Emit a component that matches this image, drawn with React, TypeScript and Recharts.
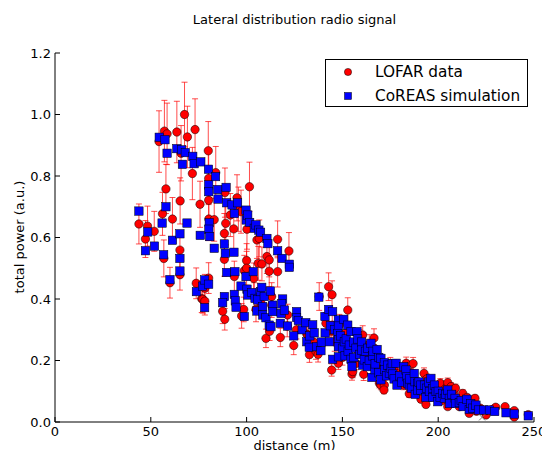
import { ErrorBar, Scatter, ScatterChart, XAxis, YAxis } from "recharts";

const FONT = '"DejaVu Sans", sans-serif';

const TITLE = "Lateral distribution radio signal";
const X_LABEL = "distance (m)";
const Y_LABEL = "total power (a.u.)";
const SERIES_NAMES = ["LOFAR data", "CoREAS simulation"];

const X_TICKS = [0, 50, 100, 150, 200, 250];
const Y_TICKS = [0, 0.2, 0.4, 0.6, 0.8, 1.0, 1.2];

// [distance (m), total power (a.u.), error]
const LOFAR: [number, number, number][] = [
  [43.8, 0.644, 0.065], [47.2, 0.595, 0.06], [48.3, 0.637, 0.065], [51.8, 0.62, 0.065],
  [54.3, 0.912, 0.1], [56.1, 0.677, 0.07], [56.8, 0.532, 0.06], [57.1, 0.946, 0.1],
  [57.9, 0.758, 0.08], [58.5, 0.937, 0.1], [60.0, 0.453, 0.05], [61.3, 0.66, 0.07],
  [63.6, 0.943, 0.1], [65.3, 0.719, 0.075], [65.2, 0.559, 0.06], [65.2, 0.479, 0.05],
  [65.8, 0.874, 0.09], [67.6, 1.0, 0.105], [69.1, 0.927, 0.1], [71.7, 0.808, 0.085],
  [73.1, 0.951, 0.1], [73.7, 0.451, 0.05], [75.7, 0.708, 0.075], [76.6, 0.401, 0.045],
  [77.1, 0.399, 0.045], [78.2, 0.393, 0.045], [78.2, 0.435, 0.045], [80.0, 0.882, 0.095],
  [80.2, 0.792, 0.085], [80.2, 0.721, 0.075], [80.3, 0.66, 0.07], [80.2, 0.468, 0.05],
  [83.1, 0.658, 0.07], [83.9, 0.811, 0.085], [87.5, 0.36, 0.04], [88.4, 0.613, 0.065],
  [88.7, 0.746, 0.08], [88.4, 0.529, 0.055], [88.6, 0.334, 0.035], [89.1, 0.646, 0.07],
  [91.5, 0.673, 0.07], [93.3, 0.628, 0.065], [93.6, 0.473, 0.05], [95.0, 0.729, 0.075],
  [95.7, 0.692, 0.072], [97.1, 0.684, 0.07], [97.4, 0.345, 0.04], [98.5, 0.366, 0.04],
  [98.8, 0.492, 0.05], [100.0, 0.525, 0.055], [100.0, 0.5, 0.055], [100.2, 0.627, 0.065],
  [101.5, 0.765, 0.08], [103.7, 0.467, 0.05], [104.0, 0.408, 0.045], [104.9, 0.366, 0.04],
  [105.4, 0.592, 0.06], [106.6, 0.597, 0.06], [106.1, 0.516, 0.055], [107.5, 0.386, 0.04],
  [108.0, 0.514, 0.055], [110.1, 0.272, 0.03], [110.6, 0.538, 0.055], [111.8, 0.527, 0.055],
  [111.8, 0.49, 0.05], [112.0, 0.295, 0.03], [113.1, 0.408, 0.045], [113.1, 0.38, 0.04],
  [116.2, 0.594, 0.06], [116.2, 0.489, 0.05], [117.6, 0.275, 0.03], [121.2, 0.312, 0.035],
  [121.4, 0.348, 0.035], [122.1, 0.556, 0.06], [124.6, 0.249, 0.03], [126.0, 0.3, 0.03],
  [131.4, 0.286, 0.03], [132.0, 0.283, 0.03], [132.8, 0.219, 0.025], [135.0, 0.26, 0.03],
  [136.2, 0.229, 0.025], [137.3, 0.22, 0.025], [137.9, 0.408, 0.045], [141.4, 0.321, 0.035],
  [142.8, 0.44, 0.045], [144.6, 0.414, 0.045], [144.1, 0.296, 0.03], [144.7, 0.315, 0.035],
  [144.4, 0.169, 0.02], [146.0, 0.26, 0.03], [147.9, 0.191, 0.02], [148.4, 0.315, 0.035],
  [150.0, 0.21, 0.025], [151.4, 0.288, 0.03], [152.8, 0.364, 0.04], [152.8, 0.24, 0.025],
  [155.0, 0.156, 0.02], [155.4, 0.164, 0.02], [157.0, 0.19, 0.02], [158.0, 0.234, 0.025],
  [159.0, 0.27, 0.03], [160.6, 0.283, 0.03], [161.1, 0.155, 0.02], [163.0, 0.21, 0.025],
  [164.0, 0.254, 0.03], [166.7, 0.24, 0.025], [166.5, 0.273, 0.03], [168.0, 0.18, 0.02],
  [169.3, 0.126, 0.015], [170.1, 0.12, 0.015], [171.9, 0.12, 0.015], [171.7, 0.104, 0.012],
  [174.0, 0.16, 0.02], [175.0, 0.19, 0.02], [177.0, 0.17, 0.02], [178.5, 0.137, 0.015],
  [180.0, 0.16, 0.018], [182.0, 0.12, 0.015], [183.3, 0.191, 0.02], [184.9, 0.092, 0.012],
  [186.0, 0.16, 0.018], [186.9, 0.19, 0.02], [188.0, 0.13, 0.015], [190.0, 0.11, 0.013],
  [191.0, 0.074, 0.01], [192.6, 0.158, 0.018], [193.6, 0.057, 0.01], [194.0, 0.14, 0.016],
  [195.0, 0.12, 0.015], [196.0, 0.08, 0.01], [197.0, 0.1, 0.012], [199.0, 0.09, 0.012],
  [200.0, 0.11, 0.013], [201.1, 0.126, 0.015], [202.0, 0.07, 0.01], [203.0, 0.1, 0.012],
  [204.0, 0.11, 0.013], [205.0, 0.128, 0.015], [205.0, 0.05, 0.008], [206.7, 0.115, 0.013],
  [208.0, 0.09, 0.012], [209.0, 0.11, 0.013], [210.0, 0.07, 0.01], [211.0, 0.05, 0.008],
  [212.8, 0.093, 0.012], [214.0, 0.06, 0.009], [215.0, 0.08, 0.01], [216.2, 0.028, 0.006],
  [219.2, 0.077, 0.01], [220.0, 0.035, 0.006], [222.0, 0.045, 0.007], [225.0, 0.023, 0.005],
  [228.0, 0.04, 0.006], [230.0, 0.048, 0.007], [234.9, 0.05, 0.007], [239.7, 0.037, 0.006],
  [239.7, 0.016, 0.005], [247.0, 0.024, 0.005],
];

// [distance (m), total power (a.u.)]
const COREAS: [number, number][] = [
  [43.8, 0.686], [47.2, 0.557], [48.4, 0.618], [51.9, 0.572], [54.4, 0.926], [55.9, 0.647],
  [56.7, 0.544], [57.4, 0.918], [57.9, 0.7], [58.5, 0.874], [60.0, 0.463], [61.3, 0.591],
  [63.6, 0.889], [65.2, 0.612], [65.2, 0.532], [65.2, 0.491], [66.1, 0.885], [66.5, 0.838],
  [68.0, 0.876], [68.9, 0.647], [71.9, 0.864], [72.6, 0.84], [73.8, 0.424], [75.8, 0.607],
  [76.1, 0.846], [77.0, 0.442], [78.1, 0.372], [78.1, 0.462], [80.1, 0.822], [80.2, 0.771],
  [80.2, 0.749], [80.5, 0.648], [80.3, 0.627], [80.7, 0.603], [80.2, 0.448], [83.1, 0.565],
  [83.8, 0.798], [84.9, 0.756], [85.1, 0.725], [88.4, 0.579], [88.9, 0.549], [88.4, 0.408],
  [87.5, 0.388], [89.3, 0.763], [89.6, 0.713], [89.6, 0.486], [92.4, 0.706], [93.6, 0.678],
  [93.4, 0.552], [93.9, 0.489], [93.6, 0.415], [94.1, 0.394], [94.5, 0.373], [95.3, 0.713],
  [97.1, 0.442], [98.8, 0.343], [99.7, 0.689], [99.8, 0.657], [100.6, 0.673], [99.7, 0.473],
  [100.2, 0.432], [100.6, 0.413], [101.6, 0.649], [102.7, 0.421], [103.5, 0.489], [104.0, 0.63],
  [104.9, 0.641], [104.4, 0.402], [105.4, 0.361], [105.8, 0.397], [106.4, 0.624], [107.3, 0.617],
  [107.2, 0.424], [107.9, 0.438], [108.4, 0.375], [108.4, 0.348], [109.2, 0.408], [110.1, 0.339],
  [110.6, 0.597], [111.1, 0.58], [111.8, 0.315], [112.4, 0.426], [112.7, 0.31], [113.6, 0.38],
  [113.6, 0.359], [116.2, 0.557], [117.6, 0.321], [118.0, 0.353], [118.5, 0.532], [118.8, 0.4],
  [118.3, 0.384], [119.7, 0.364], [121.4, 0.312], [122.3, 0.513], [122.3, 0.503], [124.6, 0.28],
  [126.1, 0.359], [126.1, 0.34], [127.0, 0.33], [129.0, 0.3], [130.9, 0.323], [131.4, 0.261],
  [132.7, 0.243], [133.0, 0.28], [134.5, 0.316], [135.3, 0.29], [136.7, 0.245], [137.7, 0.406],
  [138.8, 0.232], [139.0, 0.26], [140.9, 0.343], [141.0, 0.29], [142.8, 0.366], [143.7, 0.313],
  [143.2, 0.261], [144.9, 0.359], [144.9, 0.204], [146.0, 0.3], [147.9, 0.332], [147.9, 0.312],
  [147.6, 0.288], [147.9, 0.268], [147.9, 0.245], [147.9, 0.212], [149.0, 0.28], [150.0, 0.24],
  [150.7, 0.334], [151.0, 0.261], [151.4, 0.215], [152.0, 0.27], [152.8, 0.315], [153.0, 0.23],
  [153.6, 0.25], [154.5, 0.294], [154.5, 0.204], [155.0, 0.18], [156.0, 0.26], [156.0, 0.21],
  [157.6, 0.294], [157.1, 0.24], [158.0, 0.27], [159.0, 0.22], [160.0, 0.26], [160.1, 0.234],
  [160.6, 0.185], [161.4, 0.202], [162.0, 0.23], [163.0, 0.18], [163.2, 0.24], [164.0, 0.2],
  [164.9, 0.256], [165.8, 0.215], [165.4, 0.145], [166.0, 0.23], [167.0, 0.17], [167.1, 0.189],
  [168.1, 0.236], [169.0, 0.21], [169.0, 0.16], [170.1, 0.207], [170.1, 0.137], [171.9, 0.193],
  [172.0, 0.17], [173.0, 0.15], [173.6, 0.185], [174.5, 0.158], [175.4, 0.175], [176.0, 0.19],
  [176.3, 0.156], [177.0, 0.14], [178.0, 0.191], [178.5, 0.12], [180.0, 0.15], [181.0, 0.13],
  [182.0, 0.18], [183.2, 0.169], [183.7, 0.147], [184.1, 0.126], [184.9, 0.12], [185.0, 0.14],
  [186.0, 0.11], [187.5, 0.158], [187.9, 0.131], [188.0, 0.09], [189.3, 0.126], [189.3, 0.104],
  [190.0, 0.13], [191.0, 0.104], [191.0, 0.12], [192.8, 0.12], [193.6, 0.08], [194.0, 0.11],
  [195.0, 0.13], [195.4, 0.099], [196.2, 0.142], [197.0, 0.08], [197.1, 0.109], [198.0, 0.12],
  [198.9, 0.099], [199.8, 0.066], [200.0, 0.1], [201.0, 0.08], [202.4, 0.093], [203.2, 0.077],
  [204.0, 0.09], [205.0, 0.104], [205.8, 0.077], [206.0, 0.06], [207.0, 0.09], [208.8, 0.077],
  [209.0, 0.06], [211.0, 0.063], [212.0, 0.07], [213.0, 0.05], [215.0, 0.074], [216.2, 0.041],
  [217.0, 0.06], [218.0, 0.045], [219.7, 0.055], [221.0, 0.039], [223.7, 0.039], [226.7, 0.039],
  [229.5, 0.034], [235.4, 0.03], [239.7, 0.026], [247.0, 0.02],
];

// the small grey cross near the bottom axis
const STRAY: [number, number][] = [[222.9, 0.015]];

const lofarData = LOFAR.map(([x, y, err]) => ({ x, y, err }));
const coreasData = COREAS.map(([x, y]) => ({ x, y }));
const strayData = STRAY.map(([x, y]) => ({ x, y }));

const tickStyle = { fontSize: 13, fill: "#000", fontFamily: FONT };

function RedDot(props: any) {
  const { cx, cy } = props;
  if (cx == null || cy == null) return null;
  return <circle cx={cx} cy={cy} r={4.2} fill="#ff0000" stroke="#000" strokeWidth={0.5} />;
}

function BlueSquare(props: any) {
  const { cx, cy } = props;
  if (cx == null || cy == null) return null;
  return (
    <rect x={cx - 4.2} y={cy - 4.2} width={8.4} height={8.4} fill="#0000ff" stroke="#000" strokeWidth={0.5} />
  );
}

function Cross(props: any) {
  const { cx, cy } = props;
  if (cx == null || cy == null) return null;
  return (
    <path
      d={`M${cx - 3},${cy - 3}L${cx + 3},${cy + 3}M${cx - 3},${cy + 3}L${cx + 3},${cy - 3}`}
      stroke="#777"
      strokeWidth={1}
    />
  );
}

function Legend() {
  return (
    <div
      style={{
        position: "absolute",
        left: 325,
        top: 59,
        width: 203,
        height: 48,
        boxSizing: "border-box",
        border: "1px solid #000",
        background: "#fff",
        fontFamily: FONT,
        fontSize: 15.3,
        color: "#000",
      }}
    >
      {SERIES_NAMES.map((name, i) => (
        <div
          key={name}
          style={{ position: "absolute", left: 0, top: i === 0 ? 2 : 26, height: 20, display: "flex", alignItems: "center" }}
        >
          <svg width={49} height={20} style={{ display: "block" }}>
            {i === 0 ? (
              <circle cx={22} cy={10} r={3.6} fill="#ff0000" stroke="#000" strokeWidth={0.5} />
            ) : (
              <rect x={18.5} y={6.5} width={7} height={7} fill="#0000ff" stroke="#000" strokeWidth={0.5} />
            )}
          </svg>
          <span style={{ whiteSpace: "nowrap" }}>{name}</span>
        </div>
      ))}
    </div>
  );
}

export default function App() {
  return (
    <div style={{ position: "absolute", left: 0, top: 0, width: 542, height: 450, background: "#fff" }}>
      <ScatterChart width={542} height={450} margin={{ top: 53, right: 8, bottom: 0, left: 0 }}>
        <XAxis
          dataKey="x"
          type="number"
          domain={[0, 250]}
          ticks={X_TICKS}
          interval={0}
          height={28}
          tickSize={-5}
          tickMargin={10}
          stroke="#000"
          tick={tickStyle}
          allowDataOverflow
        />
        <XAxis
          xAxisId="top"
          orientation="top"
          type="number"
          domain={[0, 250]}
          ticks={X_TICKS}
          interval={0}
          height={0}
          tickSize={-5}
          tickFormatter={() => ""}
          stroke="#000"
        />
        <YAxis
          dataKey="y"
          type="number"
          domain={[0, 1.2]}
          ticks={Y_TICKS}
          interval={0}
          width={55}
          tickSize={-5}
          tickMargin={9}
          tickFormatter={(v: number) => v.toFixed(1)}
          stroke="#000"
          tick={tickStyle}
          allowDataOverflow
        />
        <YAxis
          yAxisId="right"
          orientation="right"
          type="number"
          domain={[0, 1.2]}
          ticks={Y_TICKS}
          interval={0}
          width={0}
          tickSize={-5}
          tickFormatter={() => ""}
          stroke="#000"
        />
        <Scatter data={lofarData} shape={RedDot} isAnimationActive={false}>
          <ErrorBar dataKey="err" direction="y" width={3} stroke="#ff0000" strokeOpacity={0.7} strokeWidth={1} />
        </Scatter>
        <Scatter data={coreasData} shape={BlueSquare} isAnimationActive={false} />
        <Scatter data={strayData} shape={Cross} isAnimationActive={false} />
      </ScatterChart>

      <div
        style={{
          position: "absolute",
          left: 55,
          width: 479,
          top: 12,
          textAlign: "center",
          fontFamily: FONT,
          fontSize: 13,
          lineHeight: "16px",
          color: "#000",
        }}
      >
        {TITLE}
      </div>
      <div
        style={{
          position: "absolute",
          left: 55,
          width: 479,
          top: 438,
          textAlign: "center",
          fontFamily: FONT,
          fontSize: 13,
          lineHeight: "16px",
          color: "#000",
        }}
      >
        {X_LABEL}
      </div>
      <div
        style={{
          position: "absolute",
          left: 20,
          top: 237,
          transform: "translate(-50%, -50%) rotate(-90deg)",
          whiteSpace: "nowrap",
          fontFamily: FONT,
          fontSize: 13,
          lineHeight: "16px",
          color: "#000",
        }}
      >
        {Y_LABEL}
      </div>
      <Legend />
    </div>
  );
}
